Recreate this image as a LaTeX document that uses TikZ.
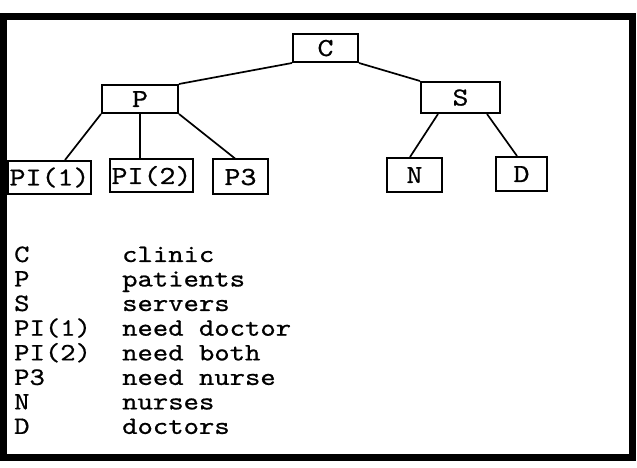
\documentclass[tikz,border=0pt]{standalone}
\usepackage{fontspec}
\newfontfamily\typer{lmmono10-regular.otf}[FakeStretch=1.17, FakeBold=0.7]

\begin{document}
\begin{tikzpicture}[x=1bp, y=-1bp,
  tbox/.style={rectangle, draw=black, line width=2bp, inner sep=0pt, minimum height=33bp,
    text height=16bp, text depth=0pt, font=\typer\fontsize{26bp}{26bp}\selectfont},
  link/.style={line width=1.7bp},
  outerframe/.style={line width=7bp}
]
\useasboundingbox (0,0) rectangle (637,468);

% tree
\node (C) [tbox, minimum width=65bp, minimum height=28bp] at (325.5,48) {C};
\node (P) [tbox, minimum width=76bp, minimum height=28bp] at (140,99) {P};
\node (S) [tbox, minimum width=79bp, minimum height=31bp] at (460.5,97.5) {S};
\node (PI1) [tbox, minimum width=83bp] at (49.5,177.5) {PI(1)};
\node (PI2) [tbox, minimum width=83bp] at (151.5,176) {PI(2)};
\node (P3) [tbox, minimum width=55bp, minimum height=35bp] at (240.5,177) {P3};
\node (N) [tbox, minimum width=55bp, minimum height=34bp] at (414.5,175) {N};
\node (D) [tbox, minimum width=51bp, minimum height=34bp] at (521.5,174) {D};

\draw [link] (C.south west) -- (P.north east);
\draw [link] (C.south east) -- (S.north west);
\draw [link] (P.south west) -- ([xshift=15.5bp]PI1.north);
\draw [link] (P.south) -- (P.south |- PI2.north);
\draw [link] (P.south east) -- ([xshift=-5.5bp]P3.north);
\draw [link] ([xshift=-22.5bp]S.south) -- ([xshift=-4.5bp]N.north);
\draw [link] ([xshift=26.5bp]S.south) -- ([xshift=-4.5bp]D.north);

% key
\node (legend) [anchor=base west, inner sep=0pt, font=\typer\fontsize{25bp}{24.5bp}\selectfont] at (14,262) {%
  \begin{tabular}[t]{@{}p{108bp}@{}l@{}}
  C & clinic\\
  P & patients\\
  S & servers\\
  PI(1) & need doctor\\
  PI(2) & need both\\
  P3 & need nurse\\
  N & nurses\\
  D & doctors
  \end{tabular}};

\draw [outerframe] (3,17) rectangle (632,457);

\end{tikzpicture}
\end{document}
